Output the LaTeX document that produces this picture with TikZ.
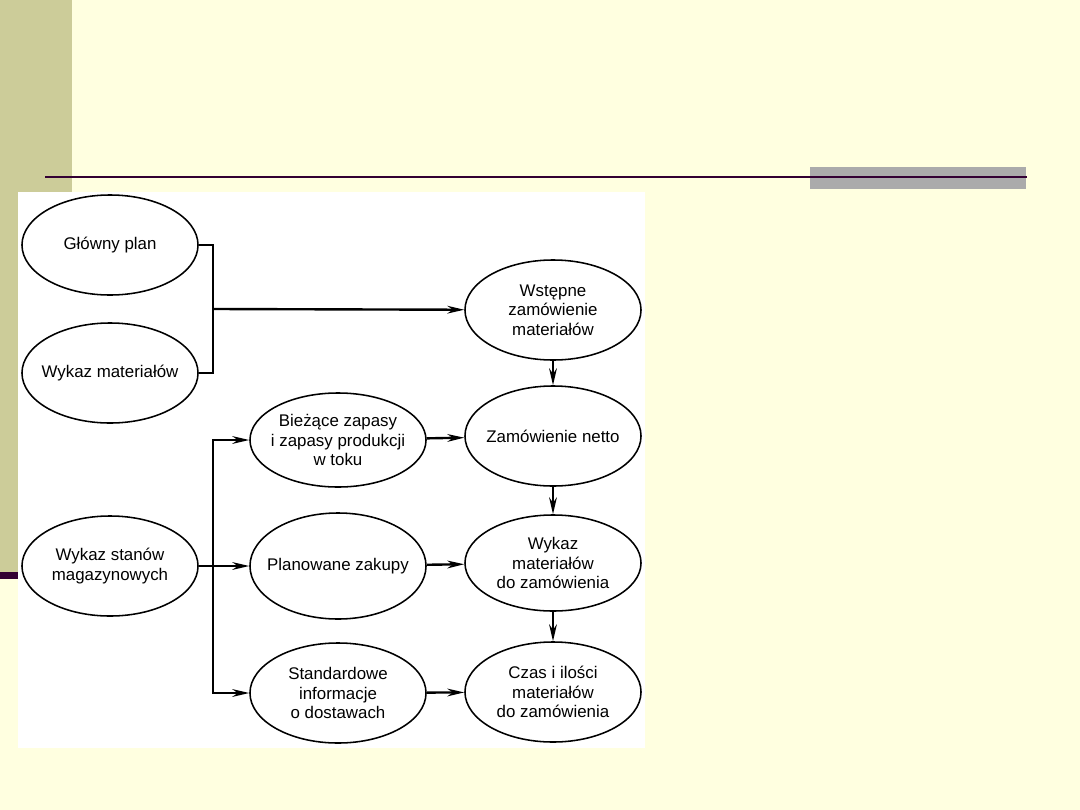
\documentclass[tikz,border=0pt]{standalone}
\usepackage{xcolor}
\usepackage{fontspec}
\setmainfont{Liberation Sans}
\usepackage{tikz}
\usetikzlibrary{shapes.geometric,arrows.meta}
\definecolor{slideYellow}{HTML}{FFFFE0}
\definecolor{slideOlive}{HTML}{CCCC99}
\definecolor{slidePurple}{HTML}{330033}
\definecolor{slideGray}{HTML}{ABABAB}

\tikzset{
  blob/.style={ellipse, draw, fill=white, line width=1.1pt, minimum width=4.4cm,
    minimum height=2.5cm, inner xsep=-0.35cm, inner ysep=0pt, align=center,
    font=\fontsize{12}{14}\selectfont},
  link/.style={line width=1.7pt},
  flow/.style={link, -{Stealth[length=12pt,width=5.5pt]}},
}

\begin{document}
\begin{tikzpicture}[x=0.025cm, y=-0.025cm]
  % slide background
  \fill[slideYellow] (0,0) rectangle (1080,810);
  \useasboundingbox (0,0) rectangle (1080,810);
  \fill[slideOlive] (0,0) rectangle (72,572);
  \fill[slidePurple] (0,572) rectangle (18,579);
  \fill[slideGray] (810,167) rectangle (1026,189);
  \draw[slidePurple, line width=2.1pt] (45,177) -- (1027,177);
  \fill[white] (18,192) rectangle (645,748);

  % left column
  \node[blob] (glowny) at (110,245) {Główny plan};
  \node[blob] (wykazmat) at (110,373) {Wykaz materiałów};
  \node[blob] (stany) at (110,566) {Wykaz stanów\\magazynowych};

  % middle column
  \node[blob, minimum height=2.35cm] (biezace) at (338,440) {Bieżące zapasy\\i zapasy produkcji\\w toku};
  \node[blob, minimum height=2.65cm] (planowane) at (338,566) {Planowane zakupy};
  \node[blob] (standard) at (338,693) {Standardowe\\informacje\\o dostawach};

  % right column
  \node[blob] (wstepne) at (553,310) {Wstępne\\zamówienie\\materiałów};
  \node[blob] (netto) at (553,436) {Zamówienie netto};
  \node[blob, minimum height=2.4cm] (dozam) at (553,563) {Wykaz\\materiałów\\do zamówienia};
  \node[blob] (czas) at (553,692) {Czas i ilości\\materiałów\\do zamówienia};

  % connectors
  \coordinate (bracket) at (213,309);
  \coordinate (split) at (213,566);
  \draw[link] (glowny.east) -| (bracket) |- (wykazmat.east);
  \draw[flow] (bracket) -- (wstepne);
  \draw[link] (stany) -- (split);
  \draw[flow] (split) |- (biezace);
  \draw[flow] (split) -- (planowane);
  \draw[flow] (split) |- (standard);
  \draw[flow] (biezace) -- (netto);
  \draw[flow] (planowane) -- (dozam);
  \draw[flow] (standard) -- (czas);
  \draw[flow] (wstepne) -- (netto);
  \draw[flow] (netto) -- (dozam);
  \draw[flow] (dozam) -- (czas);
\end{tikzpicture}
\end{document}
